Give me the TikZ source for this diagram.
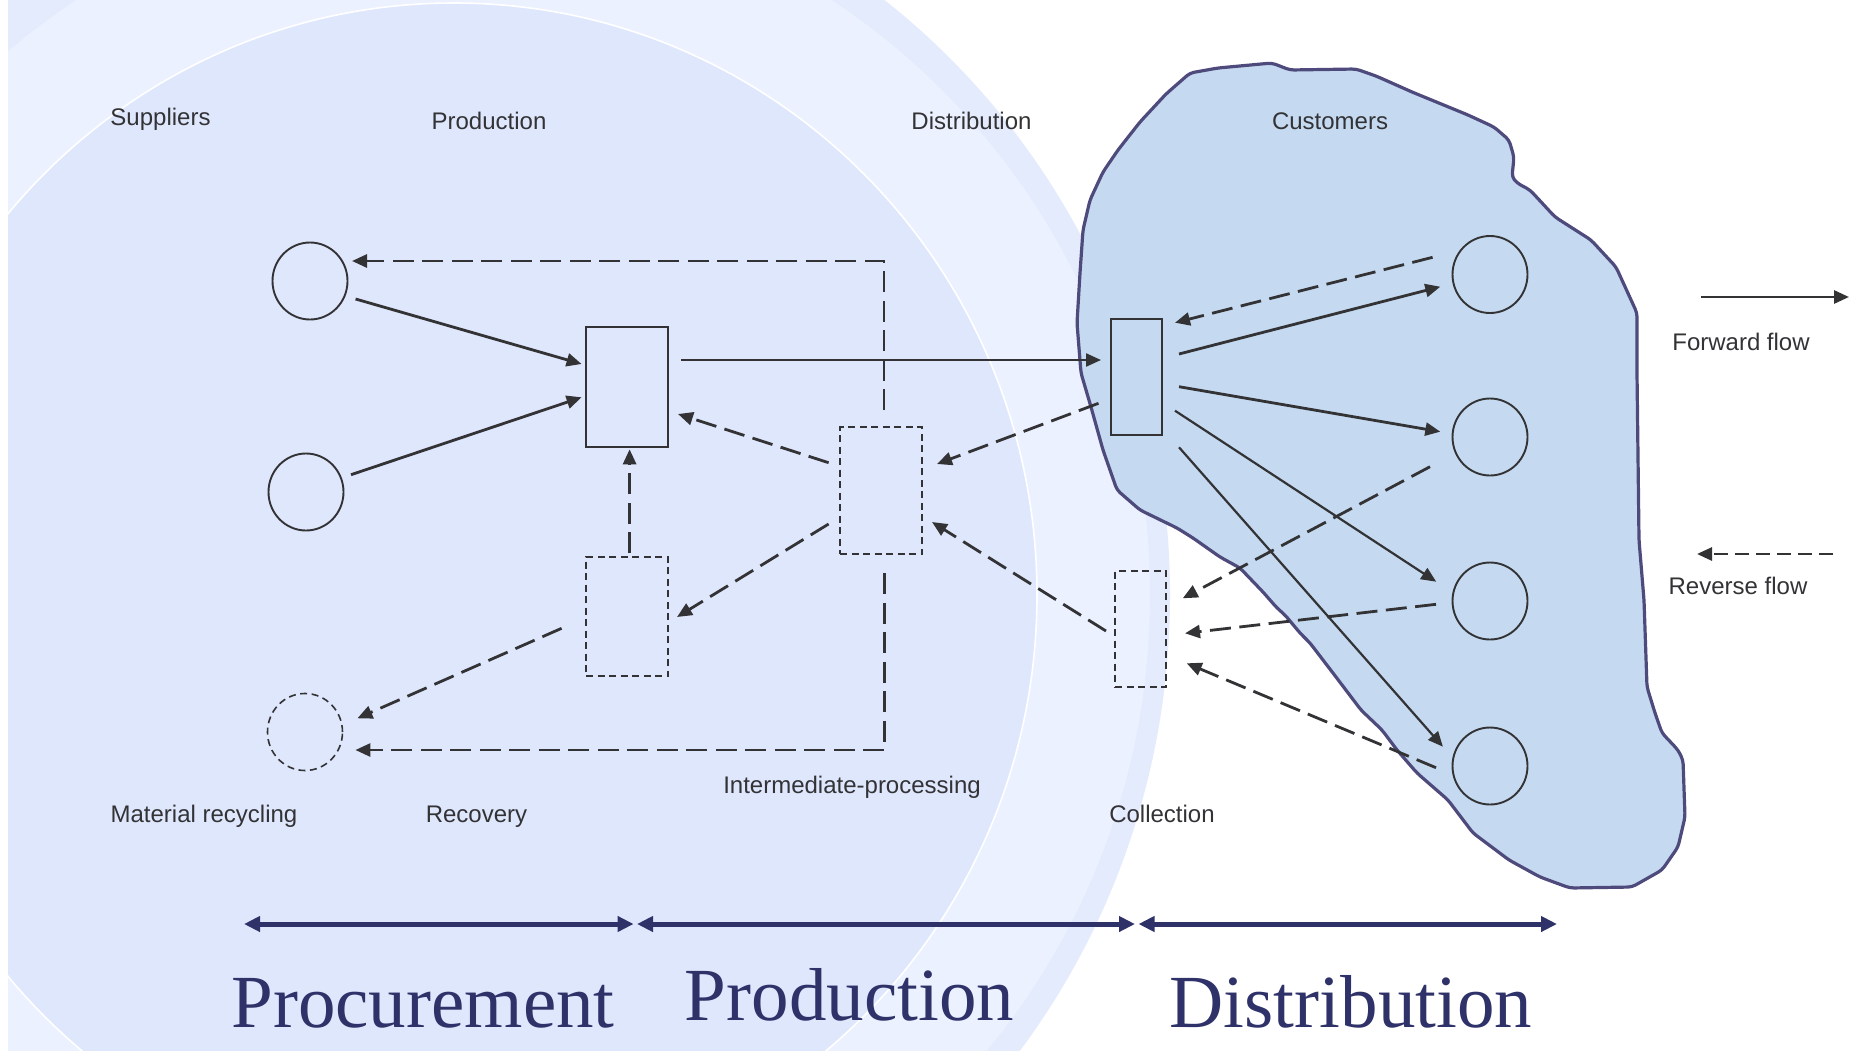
\documentclass[tikz,border=0pt]{standalone}
\usepackage{fontspec}
\setmainfont{Liberation Serif}
\setsansfont{Liberation Sans}
\usetikzlibrary{arrows.meta,shapes.geometric}
\definecolor{bgout}{HTML}{E4EBFD}
\definecolor{bgmid}{HTML}{EBF1FF}
\definecolor{bgin}{HTML}{DFE7FD}
\definecolor{blobfill}{HTML}{C5DAF1}
\definecolor{blobline}{HTML}{4E4B7C}
\definecolor{lc}{HTML}{333336}
\definecolor{navy}{HTML}{2F3269}
\begin{document}
\begin{tikzpicture}[x=1pt,y=-1pt,
  fwd/.style={draw=lc, line width=2.8pt, -{Triangle[length=15pt,width=13pt]}},
  fwdthin/.style={fwd, line width=2.2pt},
  rev/.style={fwd, dash pattern=on 21pt off 8.5pt},
  box/.style={draw=lc, line width=1.9pt, rectangle, inner sep=0pt},
  dbox/.style={box, line width=1.7pt, dash pattern=on 7pt off 4.5pt},
  circ/.style={draw=lc, line width=1.9pt, ellipse, minimum width=75pt, minimum height=77pt, inner sep=0pt},
  dcirc/.style={circ, line width=1.6pt, dash pattern=on 7pt off 4.5pt},
  lbl/.style={text=lc, font=\sffamily\fontsize{24}{28}\selectfont, inner sep=0pt, anchor=base},
  big/.style={text=navy, font=\rmfamily\fontsize{75}{80}\selectfont, inner sep=0pt, anchor=base},
  phase/.style={draw=navy, line width=5pt, {Triangle[length=16pt,width=15pt]}-{Triangle[length=16pt,width=15pt]}}
]
\useasboundingbox (0,0) rectangle (1850,1050);
% background
\begin{scope}
  \clip (8,0) rectangle (1850,1050);
  \fill[bgout] (445,595) ellipse [x radius=725, y radius=748];
  \fill[bgmid] (454,595) ellipse [x radius=696, y radius=708];
  \filldraw[fill=bgin, draw=white, line width=1.6pt] (454,595) ellipse [x radius=583, y radius=592];
\end{scope}
% customer area
\filldraw[fill=blobfill, draw=blobline, line width=3.2pt, line join=round, rounded corners=4pt]
 (1081,373) -- (1091,407) -- (1103,450) -- (1117,490) -- (1140,510) -- (1177,528) -- (1193,538)
 -- (1220,557) -- (1240,568) -- (1263,592) -- (1277,608) -- (1285,615) -- (1300,633) -- (1310,643)
 -- (1336,677) -- (1361,710) -- (1382,730) -- (1397,750) -- (1417,773) -- (1448,800) -- (1473,833)
 -- (1509,860) -- (1540,877) -- (1570,888) -- (1632,887) -- (1662,870) -- (1678,847) -- (1685,817)
 -- (1683,760) -- (1678,750) -- (1662,733) -- (1655,713) -- (1647,687) -- (1644,600) -- (1639,540)
 -- (1637,373) -- (1637,313) -- (1616,267) -- (1591,240) -- (1555,217) -- (1530,190) -- (1517,183)
 -- (1512,177) -- (1514,157) -- (1509,140) -- (1494,127) -- (1468,115) -- (1412,92) -- (1376,76)
 -- (1356,69) -- (1290,70) -- (1272,63) -- (1218,68) -- (1190,73) -- (1166,94) -- (1140,122)
 -- (1118,150) -- (1103,172) -- (1090,200) -- (1083,230) -- (1080,273) -- (1077,323) -- cycle;
% nodes
\node[circ] (s1) at (310,281) {};
\node[circ] (s2) at (306,492) {};
\node[dcirc] (mr) at (305,732) {};
\node[box, minimum width=82pt, minimum height=120pt] (prod) at (627,387) {};
\node[dbox, minimum width=82pt, minimum height=119pt] (rec) at (627,616.5) {};
\node[dbox, minimum width=82pt, minimum height=127pt] (inter) at (881,490.5) {};
\node[box, minimum width=51pt, minimum height=116pt] (dist) at (1136.5,377) {};
\node[dbox, minimum width=51pt, minimum height=116pt] (coll) at (1140.5,629) {};
\node[circ] (c1) at (1490,274.5) {};
\node[circ] (c2) at (1490,437) {};
\node[circ] (c3) at (1490,601) {};
\node[circ] (c4) at (1490,766) {};
% labels
\node[lbl] (tSup) at (160.5,125) {Suppliers};
\node[lbl] (tProd) at (489,129.5) {Production};
\node[lbl] (tDist) at (971.5,129.3) {Distribution};
\node[lbl] (tCust) at (1330,129) {Customers};
\node[lbl] (tFwd) at (1741,350) {Forward flow};
\node[lbl] (tRev) at (1738,594) {Reverse flow};
\node[lbl] (tColl) at (1162,822.7) {Collection};
\node[lbl] (tInt) at (852,793) {Intermediate-processing};
\node[lbl] (tRec) at (476.5,822) {Recovery};
\node[lbl] (tMat) at (204,822.7) {Material recycling};
% forward flows
\draw[fwd] ([shift={(45.6,18)}]s1.center) -- ([shift={(-45.4,-23)}]prod.center);
\draw[fwd] ([shift={(45,-17.3)}]s2.center) -- ([shift={(-45.4,10.3)}]prod.center);
\draw[fwd, line width=2.3pt] ([shift={(54,-27)}]prod.center) -- ([shift={(-35.5,-17)}]dist.center);
\draw[fwd] ([shift={(42.5,-23)}]dist.center) -- ([shift={(-49.7,12.2)}]c1.center);
\draw[fwd] ([shift={(42.5,9.7)}]dist.center) -- ([shift={(-49.7,-5.3)}]c2.center);
\draw[fwdthin] ([shift={(38.5,33.7)}]dist.center) -- ([shift={(-53.8,-19.3)}]c3.center);
\draw[fwdthin] ([shift={(42.5,70.3)}]dist.center) -- ([shift={(-47.1,-19.3)}]c4.center);
% reverse flows
\draw[rev] ([shift={(3,-80.5)}]inter.center) |- ([shift={(42,-20)}]s1.center);
\draw[rev] ([shift={(-52.4,-27.8)}]inter.center) -- ([shift={(51,27)}]prod.center);
\draw[rev] ([shift={(2.6,-63.5)}]rec.center) -- ([shift={(2.6,62.3)}]prod.center);
\draw[rev] ([shift={(-52.4,33.5)}]inter.center) -- ([shift={(50,0.5)}]rec.center);
\draw[rev] ([shift={(-38,26.3)}]dist.center) -- ([shift={(56,-26.5)}]inter.center);
\draw[rev] ([shift={(-34.5,2)}]coll.center) -- ([shift={(51,31.5)}]inter.center);
\draw[rev] ([shift={(3.4,82.8)}]inter.center) |- ([shift={(50.4,18)}]mr.center);
\draw[rev] ([shift={(-65.4,11.8)}]rec.center) -- ([shift={(52.4,-13.7)}]mr.center);
\draw[rev] ([shift={(-57.4,-17.2)}]c1.center) -- ([shift={(38.5,-54.3)}]dist.center);
\draw[rev] ([shift={(-60,29.7)}]c2.center) -- ([shift={(42.2,-30.7)}]coll.center);
\draw[rev] ([shift={(-54,3.3)}]c3.center) -- ([shift={(44.5,4.3)}]coll.center);
\draw[rev] ([shift={(-54,1.7)}]c4.center) -- ([shift={(46.2,34.3)}]coll.center);
% legend
\coordinate (lf1) at (1701,297);
\coordinate (lf2) at (1849,297);
\coordinate (lr1) at (1833,554);
\coordinate (lr2) at (1697,554);
\draw[fwd] (lf1) -- (lf2);
\draw[rev, dash pattern=on 14pt off 7pt] (lr1) -- (lr2);
% phases
\coordinate (b1) at (244,924);
\coordinate (b2) at (633.6,924);
\coordinate (b3) at (637,924);
\coordinate (b4) at (1135,924);
\coordinate (b5) at (1138.5,924);
\coordinate (b6) at (1557,924);
\draw[phase] (b1) -- (b2);
\draw[phase] (b3) -- (b4);
\draw[phase] (b5) -- (b6);
\node[big] (pProc) at (423,1027) {Procurement};
\node[big] (pProd) at (849.5,1020.5) {Production};
\node[big] (pDist) at (1351,1027) {Distribution};
\end{tikzpicture}
\end{document}
